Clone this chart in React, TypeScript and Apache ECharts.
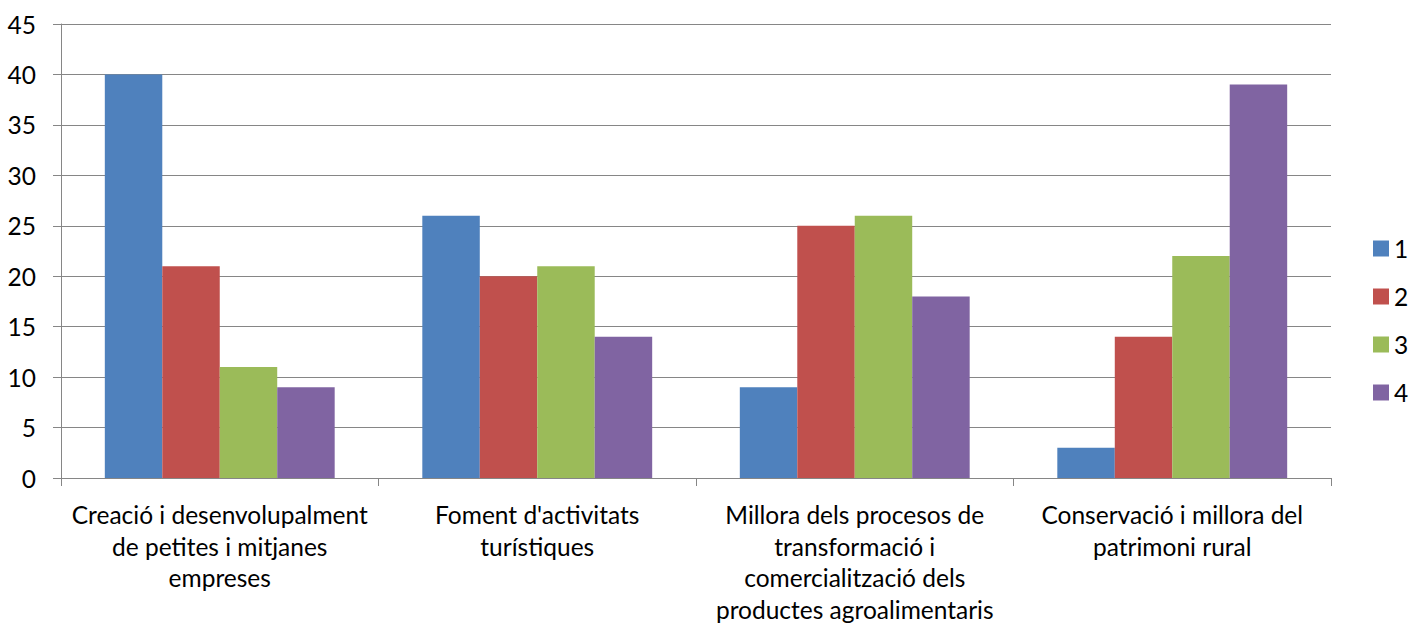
import React, { useEffect, useRef } from "react";
import * as echarts from "echarts";

const categories = [
  "Creació i desenvolupalment\nde petites i mitjanes\nempreses",
  "Foment d'activitats\nturístiques",
  "Millora dels procesos de\ntransformació i\ncomercialització dels\nproductes agroalimentaris",
  "Conservació i millora del\npatrimoni rural",
];
const seriesNames = ["1", "2", "3", "4"];
const series1 = [40, 26, 9, 3];
const series2 = [21, 20, 25, 14];
const series3 = [11, 21, 26, 22];
const series4 = [9, 14, 18, 39];
const colors = ["#4F81BD", "#C0504D", "#9BBB59", "#8064A2"];

const FONT = "Lato, 'Liberation Sans', sans-serif";
const FS = 24.5;

export default function App() {
  const ref = useRef<HTMLDivElement>(null);
  useEffect(() => {
    document.body.style.margin = "0";
    const chart = echarts.init(ref.current!, null, { renderer: "svg" });
    const all = [series1, series2, series3, series4];
    chart.setOption({
      animation: false,
      textStyle: { fontFamily: FONT },
      legend: {
        orient: "vertical",
        left: 1373,
        top: 236,
        padding: 0,
        itemWidth: 16,
        itemHeight: 16,
        itemGap: 23,
        icon: "rect",
        textStyle: { fontSize: FS, color: "#000", fontFamily: FONT },
        data: seriesNames,
      },
      grid: { left: 61, right: 92, top: 24, bottom: 145, containLabel: false },
      xAxis: {
        type: "category",
        data: categories,
        axisLine: { show: true, lineStyle: { color: "#868686", width: 1 } },
        axisTick: { show: true, alignWithLabel: false, length: 8, lineStyle: { color: "#868686" } },
        axisLabel: {
          interval: 0,
          fontSize: FS,
          color: "#000",
          lineHeight: 31.5,
          margin: 21,
          fontFamily: FONT,
        },
      },
      yAxis: {
        type: "value",
        min: 0,
        max: 45,
        interval: 5,
        axisLine: { show: true, lineStyle: { color: "#868686", width: 1 } },
        axisTick: { show: true, length: 8, lineStyle: { color: "#868686" } },
        splitLine: { show: true, lineStyle: { color: "#868686", width: 1 } },
        axisLabel: { fontSize: FS, color: "#000", margin: 25, fontFamily: FONT },
      },
      series: all.map((d, i) => ({
        name: seriesNames[i],
        type: "bar",
        data: d,
        itemStyle: { color: colors[i] },
        barGap: "0%",
        barCategoryGap: "27.6%",
      })),
    });
    return () => chart.dispose();
  }, []);
  return <div ref={ref} style={{ width: 1423, height: 625 }} />;
}
